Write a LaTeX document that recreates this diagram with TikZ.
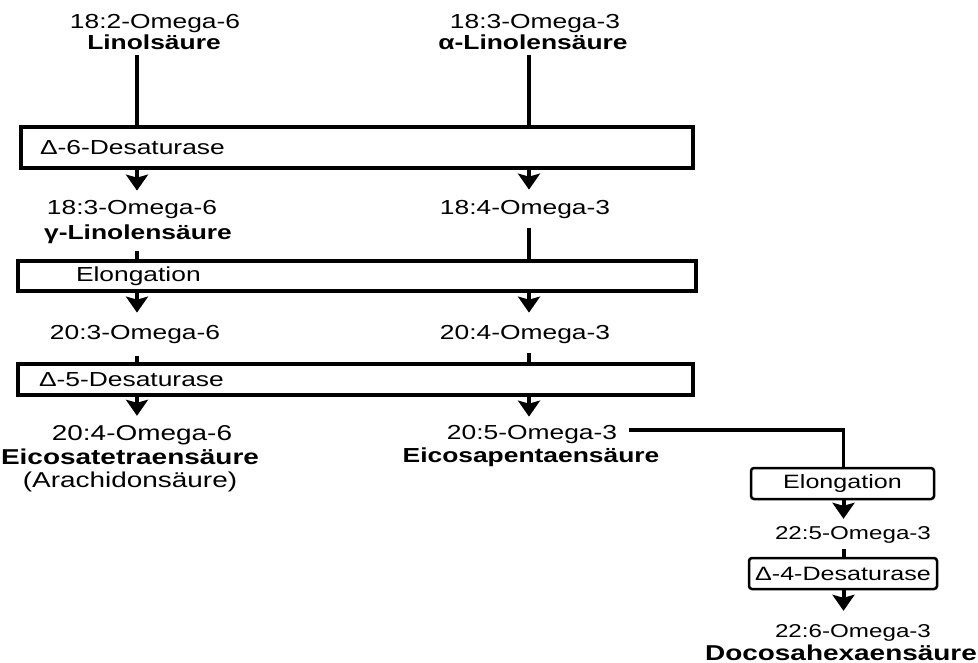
\documentclass[tikz,border=0pt]{standalone}
\usepackage{fontspec}
\setmainfont{Liberation Sans}[FakeStretch=1.3]
\usetikzlibrary{arrows.meta}
\begin{document}
\begin{tikzpicture}[x=1pt,y=-1pt,
  txt/.style={inner sep=0pt, anchor=base, font=\fontsize{20.3}{22}\selectfont},
  btxt/.style={inner sep=0pt, anchor=base, font=\fontsize{20.3}{22}\selectfont\bfseries},
  bigtxt/.style={inner sep=0pt, anchor=base, font=\fontsize{21.5}{22}\selectfont},
  bigbtxt/.style={inner sep=0pt, anchor=base, font=\fontsize{21.5}{22}\selectfont\bfseries},
  smalltxt/.style={inner sep=0pt, anchor=base, font=\fontsize{18.6}{20}\selectfont},
  bigbox/.style={draw, line width=4pt, anchor=north west, align=left, inner ysep=0pt,
    font=\fontsize{20.3}{22}\selectfont},
  smallbox/.style={draw, line width=2.5pt, rounded corners=3pt, inner sep=0pt,
    font=\fontsize{19.3}{22}\selectfont},
  ln/.style={line width=4pt},
  arr/.style={line width=4pt, -{Stealth[length=16pt,width=22pt,inset=3pt]}}
]
\useasboundingbox (0,0) rectangle (978,663);
\fill[white] (0,0) rectangle (978,663);

% column coordinates
\coordinate (cL) at (137,0);
\coordinate (cR) at (529,0);
\coordinate (cB) at (843.5,0);
\coordinate (br) at (843.5,430);

% top substrates
\node[txt]  (la1) at (155,29) {18:2-Omega-6};
\node[btxt] (la2) at (154,50) {Linolsäure};
\node[txt]  (aa1) at (535,29) {18:3-Omega-3};
\node[btxt] (aa2) at (533,50) {α-Linolensäure};

% enzyme boxes
\node[bigbox, text width=634pt, inner xsep=19pt, minimum height=41pt] (d6) at (19,125) {Δ-6-Desaturase};
\node[bigbox, text width=562pt, inner xsep=58pt, minimum height=30pt] (el) at (16,259) {Elongation};
\node[bigbox, text width=633pt, inner xsep=21pt, minimum height=31pt] (d5) at (16,362) {Δ-5-Desaturase};

% intermediates
\node[txt]  (g1) at (132,215) {18:3-Omega-6};
\node[btxt] (g2) at (138,240) {γ-Linolensäure};
\node[txt]  (s1) at (525,215) {18:4-Omega-3};
\node[txt]  (h1) at (135,340) {20:3-Omega-6};
\node[txt]  (e1) at (525,340) {20:4-Omega-3};

% products
\node[bigtxt]  (a1) at (142,440) {20:4-Omega-6};
\node[bigbtxt] (a2) at (130,464) {Eicosatetraensäure};
\node[bigtxt]  (a3) at (130,487) {(Arachidonsäure)};
\node[txt]  (ep1) at (532,439) {20:5-Omega-3};
\node[btxt] (ep2) at (531,462) {Eicosapentaensäure};

% DHA branch
\node[smallbox, minimum width=183pt, minimum height=31pt] (elo2) at (842.5,483.5) {Elongation};
\node[smalltxt] (f1) at (853,539) {22:5-Omega-3};
\node[smallbox, minimum width=188pt, minimum height=31pt] (d4) at (843,573.5) {Δ-4-Desaturase};
\node[smalltxt] (f2) at (853,637) {22:6-Omega-3};
\node[bigbtxt] (dha) at (841,660) {Docosahexaensäure};

% connectors
\draw[ln] (la2.south -| cL) ++(0,5) -- (d6.north -| cL);
\draw[ln] (aa2.south -| cR) ++(0,5) -- (d6.north -| cR);
\draw[arr, shorten >=10pt] (d6.south -| cL) -- (g1.north -| cL);
\draw[arr, shorten >=11pt] (d6.south -| cR) -- (s1.north -| cR);
\draw[ln] (g2.south -| cL) ++(0,6.5) -- (el.north -| cL);
\draw[ln] (s1.south -| cR) ++(0,8.5) -- (el.north -| cR);
\draw[arr, shorten >=13pt] (el.south -| cL) -- (h1.north -| cL);
\draw[arr, shorten >=13pt] (el.south -| cR) -- (e1.north -| cR);
\draw[ln] (h1.south -| cL) ++(0,11.5) -- (d5.north -| cL);
\draw[ln] (e1.south -| cR) ++(0,8.5) -- (d5.north -| cR);
\draw[arr, shorten >=9pt] (d5.south -| cL) -- (a1.north -| cL);
\draw[arr, shorten >=8pt] (d5.south -| cR) -- (ep1.north -| cR);
\draw[ln, line width=3.5pt] ([xshift=12pt]ep1.east |- br) -- (br) -- (elo2.north -| br);
\draw[arr, shorten >=7pt] (elo2.south -| cB) -- (f1.north -| cB);
\draw[ln] (f1.south -| cB) ++(0,5.5) -- (d4.north -| cB);
\draw[arr, shorten >=13pt] (d4.south -| cB) -- (f2.north -| cB);
\end{tikzpicture}
\end{document}
